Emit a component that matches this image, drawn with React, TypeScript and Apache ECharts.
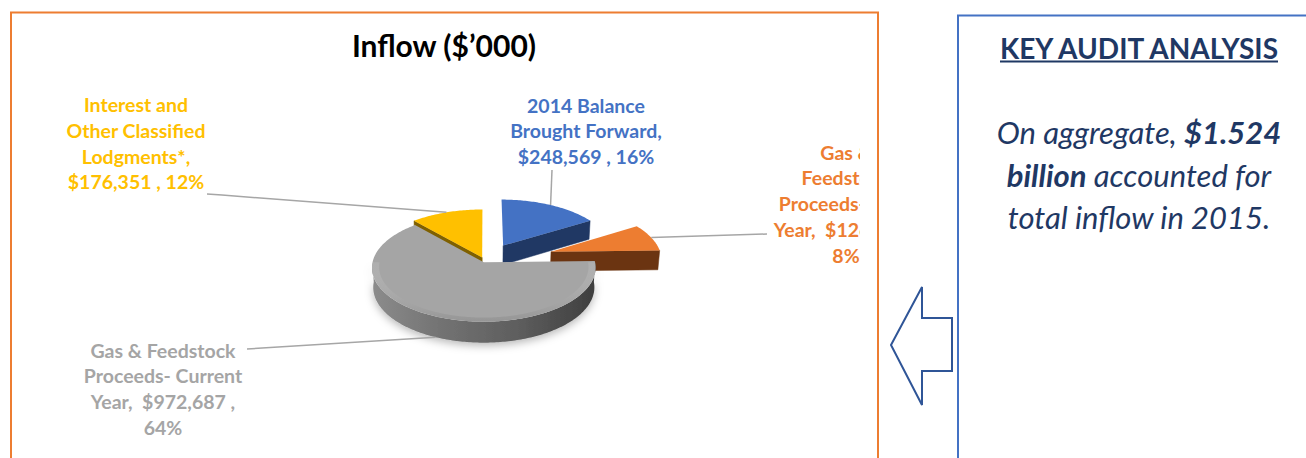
import React, { useEffect, useRef } from "react";
import * as echarts from "echarts";

// ---------- data ----------
const categories = [
  "2014 Balance Brought Forward",
  "Gas & Feedstock Proceeds- Prior Year",
  "Gas & Feedstock Proceeds- Current Year",
  "Interest and Other Classified Lodgments*",
];
const values = [248569, 126393, 972687, 176351];
const labelNameLines = [
  ["2014 Balance", "Brought Forward,"],
  ["Gas &", "Feedstock", "Proceeds- Prior", "Year, "],
  ["Gas & Feedstock", "Proceeds- Current", "Year, "],
  ["Interest and", "Other Classified", "Lodgments*,"],
];
const chartTitle = "Inflow ($\u2019000)";
const panelTitle = "KEY AUDIT ANALYSIS";
const panelLines = [
  "{i|On aggregate, }{b|$1.524}",
  "{b|billion}{i| accounted for}",
  "{i|total inflow in 2015.}",
];

// ---------- styles / layout ----------
const topColors = ["#4472C4", "#ED7D31", "#A5A5A5", "#FFC000"];
const sideColors = ["#203864", "#6B3411", "#555555", "#7F6000"];
const labelColors = ["#4472C4", "#ED7D31", "#A5A5A5", "#FFC000"];
const explode = [38, 70, 3, 8];
const leaderAnchor = ["top", "top", "bottom", "top"];
const labelCenter = [
  [586, 105],
  [846, 152],
  [163, 350],
  [136, 104.5],
];
const leaderStart = [
  [[552, 170]],
  [[767, 234]],
  [[247, 349]],
  [[207, 194], [222, 195]],
];
const LINE_H = 25.8;
const GEO = { cx: 485, cy: 261, R: 111, sinA: 0.48, D: 1000, T: 22.6 };
const LABEL_FONT = "Lato";

const fmt = (v: number) => v.toLocaleString("en-US");

function proj(X: number, Z: number, H: number): number[] {
  const cosA = Math.sqrt(1 - GEO.sinA * GEO.sinA);
  const s = GEO.D / (GEO.D - Z * cosA - H * GEO.sinA);
  return [GEO.cx + X * s, GEO.cy + (Z * GEO.sinA - H * cosA) * s];
}
const rad = (d: number) => (d * Math.PI) / 180;

function renderSlice(params: any, api: any) {
  const i = params.dataIndex;
  const total = values.reduce((a, b) => a + b, 0);
  let start = 0;
  for (let k = 0; k < i; k++) start += values[k];
  const v = api.value(1);
  const a0 = (start / total) * 360;
  const a1 = ((start + v) / total) * 360;
  const bis = (a0 + a1) / 2;
  const ox = explode[i] * Math.sin(rad(bis));
  const oz = -explode[i] * Math.cos(rad(bis));
  const R = GEO.R;
  const rim = (th: number, H: number, r: number = R) =>
    proj(ox + r * Math.sin(rad(th)), oz - r * Math.cos(rad(th)), H);
  const arc = (from: number, to: number, H: number, r: number = R) => {
    const pts: number[][] = [];
    const n = Math.max(2, Math.ceil(Math.abs(to - from)));
    for (let k = 0; k <= n; k++) pts.push(rim(from + ((to - from) * k) / n, H, r));
    return pts;
  };
  const apexTop = proj(ox, oz, 0);
  const apexBot = proj(ox, oz, -GEO.T);
  // painter order: back slices first
  const depths = values.map((_, j) => {
    let s0 = 0;
    for (let k = 0; k < j; k++) s0 += values[k];
    const b = ((s0 + values[j] / 2) / total) * 360;
    return -Math.cos(rad(b));
  });
  const rank = [...depths].sort((p, q) => p - q).indexOf(depths[i]);
  const base = rank * 10;
  const children: any[] = [];
  const faceVisible = (normalDeg: number) => -Math.cos(rad(normalDeg)) > 0.02;
  [
    [a0, a0 - 90],
    [a1, a1 + 90],
  ].forEach(([th, nrm]) => {
    if (faceVisible(nrm)) {
      children.push({
        type: "polygon",
        z2: base + 1,
        shape: { points: [apexTop, rim(th, 0), rim(th, -GEO.T), apexBot] },
        style: { fill: sideColors[i], stroke: sideColors[i], lineWidth: 0.5 },
      });
    }
  });
  const w0 = Math.max(a0, 90);
  const w1 = Math.min(a1, 270);
  if (w1 > w0) {
    const topArc = arc(w0, w1, 0);
    const botArc = arc(w1, w0, -GEO.T);
    const isGray = i === 2;
    children.push({
      type: "polygon",
      z2: base + 2,
      shape: { points: topArc.concat(botArc) },
      style: {
        fill: isGray
          ? new echarts.graphic.LinearGradient(1, 0, 0, 0, [
              { offset: 0, color: "#3E3E3E" },
              { offset: 0.35, color: "#5E5E5E" },
              { offset: 0.7, color: "#737373" },
              { offset: 1, color: "#8C8C8C" },
            ])
          : sideColors[i],
        shadowBlur: 8,
        shadowColor: "rgba(0,0,0,0.28)",
        shadowOffsetY: 3,
      },
    });
  }
  children.push({
    type: "polygon",
    z2: base + 3,
    shape: { points: [apexTop].concat(arc(a0, a1, 0)) },
    style: { fill: topColors[i] },
  });
  if (w1 > w0) {
    const inner = arc(w1, w0, 0, R - 7);
    children.push({
      type: "polygon",
      z2: base + 4,
      shape: { points: arc(w0, w1, 0).concat(inner) },
      style: {
        fill: new echarts.graphic.LinearGradient(0, 0, 0, 1, [
          { offset: 0, color: "rgba(255,255,255,0.10)" },
          { offset: 1, color: "rgba(120,120,120,0.35)" },
        ]),
      },
    });
  }
  const anchor = leaderAnchor[i] === "top" ? rim(bis, 0) : rim(bis, -GEO.T);
  children.push({
    type: "polyline",
    z2: 100,
    shape: { points: leaderStart[i].concat([anchor]) },
    style: { stroke: "#A6A6A6", lineWidth: 1.5, fill: null },
  });
  const pct = Math.round((v / total) * 100);
  const lines = labelNameLines[i].slice();
  if (i === 0 || i === 3) lines.push(`$${fmt(v)} , ${pct}%`);
  else {
    lines[lines.length - 1] = `${lines[lines.length - 1]} $${fmt(v)} ,`;
    lines.push(`${pct}%`);
  }
  children.push({
    type: "text",
    z2: 101,
    style: {
      text: lines.join("\n"),
      x: labelCenter[i][0],
      y: labelCenter[i][1] - LINE_H / 2,
      fill: labelColors[i],
      fontFamily: LABEL_FONT,
      fontWeight: "bold",
      fontSize: 19.5,
      lineHeight: LINE_H,
      align: "center",
      verticalAlign: "top",
    },
  });
  return { type: "group", children };
}

export default function App() {
  const bgRef = useRef<HTMLDivElement>(null);
  const pieRef = useRef<HTMLDivElement>(null);
  useEffect(() => {
    const bg = echarts.init(bgRef.current!, null, { renderer: "svg" });
    const pie = echarts.init(pieRef.current!, null, { renderer: "svg" });
    const navy = "#1F3864";
    bg.setOption({
      animation: false,
      graphic: [
        {
          type: "rect",
          shape: { x: 11, y: 12.5, width: 867, height: 520 },
          style: { fill: "none", stroke: "#ED7D31", lineWidth: 2 },
        },
        {
          type: "rect",
          shape: { x: 958, y: 15.5, width: 420, height: 520 },
          style: { fill: "none", stroke: "#4472C4", lineWidth: 2 },
        },
        {
          type: "polygon",
          shape: {
            points: [
              [891, 345],
              [922, 287],
              [922, 318],
              [952, 318],
              [952, 371],
              [922, 371],
              [922, 405],
            ],
          },
          style: { fill: "#fff", stroke: "#2F5597", lineWidth: 2 },
        },
        {
          type: "text",
          style: {
            text: panelTitle,
            x: 1139,
            y: 48,
            align: "center",
            verticalAlign: "middle",
            fill: navy,
            fontFamily: "Lato",
            fontWeight: "bold",
            fontSize: 28,
          },
        },
        {
          type: "line",
          shape: { x1: 1000, y1: 61.5, x2: 1278, y2: 61.5 },
          style: { stroke: navy, lineWidth: 2 },
        },
        ...panelLines.map((t, k) => ({
          type: "text",
          style: {
            text: t,
            x: 1139,
            y: 132 + k * 42.5,
            align: "center",
            verticalAlign: "middle",
            rich: {
              i: { fontFamily: "Lato", fontStyle: "italic", fontSize: 31, fill: navy, color: navy },
              b: {
                fontFamily: "Lato",
                fontStyle: "italic",
                fontWeight: "bold",
                fontSize: 31,
                fill: navy,
                color: navy,
              },
            },
          },
        })),
      ],
    });
    pie.setOption({
      animation: false,
      graphic: [
        {
          type: "text",
          style: {
            text: chartTitle,
            x: 444,
            y: 45,
            align: "center",
            verticalAlign: "middle",
            fontFamily: "Lato",
            fontWeight: "bold",
            fontSize: 30,
            fill: "#000",
          },
        },
      ],
      series: [
        {
          type: "custom",
          coordinateSystem: "none",
          renderItem: renderSlice,
          data: values.map((v, i) => ({ name: categories[i], value: [i, v] })),
        },
      ],
    });
    return () => {
      bg.dispose();
      pie.dispose();
    };
  }, []);
  return (
    <div style={{ position: "fixed", left: 0, top: 0, width: 1306, height: 458, background: "#fff" }}>
      <div ref={bgRef} style={{ position: "absolute", left: 0, top: 0, width: 1306, height: 458 }} />
      <div ref={pieRef} style={{ position: "absolute", left: 0, top: 0, width: 860, height: 458 }} />
    </div>
  );
}
